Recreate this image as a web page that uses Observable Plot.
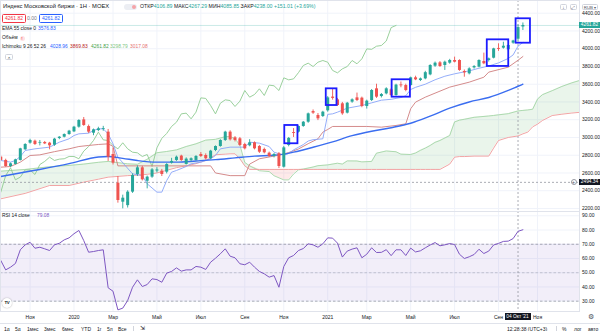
<!DOCTYPE html>
<html><head><meta charset="utf-8">
<script src="https://cdn.jsdelivr.net/npm/d3@7"></script>
<script src="https://cdn.jsdelivr.net/npm/@observablehq/plot@0.6"></script>
<style>
html,body{margin:0;padding:0;background:#fff;}
#wrap{position:relative;width:600px;height:331px;overflow:hidden;font-family:"Liberation Sans",Arial,sans-serif;color:#131722;background:#fff;}
#wrap svg{position:absolute;left:0;}
.t{position:absolute;white-space:nowrap;line-height:1;box-sizing:border-box;}
</style></head><body>
<div id="wrap"></div>
<script>
// ---------- DATA (weekly candles, first = 2019-09-23) ----------
const firstWeek = "2019-09-23";
const open = [2778,2741,2673,2696,2741,2861,2936,2958,2936,2943, 2936,2913,2988,3003,3033,3063,3116,3198,3123,3048, 3078,3090,3060,2808,2485,2271,2232,2384,2583,2658, 2507,2553,2622,2620,2609,2711,2741,2790,2696,2741, 2741,2808,2797,2760,2853,2898,2966,3060,2996,2985, 2921,2906,2940,2898,2865,2823,2789,2816,2665,2910, 3055,3060,3124,3172,3292,3248,3236,3300,3455,3424, 3379,3274,3398,3446,3443,3349,3416,3548,3461,3491, 3537,3473,3592,3585,3585,3672,3642,3660,3705,3803, 3841,3811,3837,3867,3867,3743,3717,3784,3792,3856, 3867,3893,4003,4006,3987,4062,4106.89,4245];
const high = [2790,2755,2712,2755,2878,2930,2980,2970,2966,2955, 2945,2990,3010,3040,3080,3125,3200,3225,3140,3095, 3115,3125,3090,2880,2560,2350,2400,2590,2680,2675, 2565,2650,2660,2640,2705,2765,2790,2800,2770,2770, 2795,2830,2815,2855,2905,2975,3070,3075,3010,3000, 2935,2975,2950,2910,2880,2835,2820,2830,2900,3000, 3100,3130,3180,3275,3310,3270,3295,3460,3548,3440, 3395,3395,3435,3500,3455,3420,3540,3600,3495,3560, 3550,3600,3625,3600,3680,3690,3670,3745,3820,3850, 3855,3860,3880,3905,3875,3760,3785,3810,3875,3950, 3895,4005,4055,4073,4045,4095,4267.29,4290];
const low = [2735,2665,2660,2690,2735,2855,2925,2910,2905,2920, 2861,2900,2975,2995,3025,3055,3105,3125,3045,3020, 3065,3070,2730,2690,2260,2196,2205,2370,2560,2510, 2421,2540,2600,2560,2590,2700,2730,2730,2690,2725, 2735,2775,2745,2750,2840,2890,2955,2960,2950,2900, 2860,2895,2860,2820,2815,2775,2770,2650,2655,2895, 3000,3050,3115,3160,3260,3190,3225,3285,3420,3350, 3250,3265,3385,3405,3335,3320,3405,3440,3445,3480, 3460,3465,3560,3515,3575,3640,3630,3650,3695,3790, 3790,3755,3825,3840,3745,3679,3705,3770,3785,3820, 3850,3885,3970,3995,3975,4050,4085.85,4205];
const close = [2741,2673,2703,2748,2872,2921,2966,2921,2944,2928, 2906,2981,3003,3033,3071,3116,3191,3135,3060,3086, 3097,3099,2778,2711,2290,2316,2384,2571,2658,2523, 2553,2635,2634,2583,2695,2730,2778,2741,2756,2760, 2786,2786,2760,2846,2898,2966,3060,2973,2966,2910, 2872,2940,2872,2834,2827,2786,2808,2673,2883,2990, 3045,3124,3172,3266,3274,3210,3285,3446,3440,3360, 3266,3386,3424,3416,3349,3409,3529,3454,3484,3548, 3473,3590,3582,3529,3672,3649,3660,3730,3811,3837, 3799,3848,3867,3848,3755,3728,3773,3799,3867,3830, 3886,3998,3993,4028,4036,4086.99,4238.00,4261.82];
const rsi = [58.6,52,53.9,56.5,66.1,69.6,71.4,67.2,67.9,66.8, 65.6,69.6,70.7,73.1,74.5,77.4,79.7,72.6,64.4,64.9, 65.6,66.1,39.4,37.0,23.9,25.1,30.5,39.8,45.0,40.3, 41.7,45.7,45.2,43.3,49.7,50.9,53.4,51.1,52.0,52.0, 54.4,53.9,52.3,57.4,60.2,63.3,66.8,61.6,60.5,56.3, 55.6,57.4,53.9,50.9,49.2,46.9,48.0,39.8,54.4,60.5, 62.1,65.6,67,70.3,69.6,67.9,70.3,74.5,74.3,70.8, 61,65.2,66.6,67.5,60.5,63.0,67.5,64.2,64.3,66.2, 62,66.1,66.1,62.1,67.3,64.6,65.4,67.5,69.5,71.2, 68.9,69.6,70.5,69.8,63,60,61.2,62.8,66.5,63.5, 65.2,69.5,70.6,72,72.2,74,79.08,80.2];

// EMA 55 (week index, value)
const emaIdx = [0,7,14,20,22,25,28,32,36,40,44,48,52,56,58,60,64,68,72,76,80,84,88,92,96,100,104,106,107];
const emaVal = [2560,2630,2705,2780,2786,2765,2740,2722,2722,2735,2750,2770,2790,2800,2812,2835,2890,2950,3020,3070,3110,3160,3240,3330,3400,3450,3530,3576.83,3600];
// Ichimoku conversion line
const tenkanIdx = [0,2,3,4,5,7,10,12,14,15,16,18,19,20,21,22,23,24,27,29,30,32,33,34,35,36,38,39,41,43,44,45,47,50,51,53,55,56,58,59,60,61,62,63,64,66,67,68,69,71,74,76,78,80,82,83,84,85,87,89,91,93,96,98,100,102,104,105,106,107];
const tenkanVal = [2741,2722,2741,2786,2853,2872,2891,2947,2985,3022,3041,3048,3078,3097,3097,3041,2928,2778,2590,2572,2478,2384,2384,2515,2609,2628,2673,2703,2722,2759,2797,2872,2891,2891,2947,2936,2898,2834,2800,2820,2860,2890,2920,2960,2975,2985,3260,3266,3285,3330,3360,3390,3420,3430,3450,3470,3540,3565,3600,3650,3690,3717,3750,3780,3805,3840,3890,3930,4028.96,4070];
// Ichimoku base line
const kijunIdx = [0,2,4,6,8,11,14,16,18,20,22,23,24,43,44,47,50,51,53,55,57,59,61,63,65,66,67,68,75,78,81,83,84,85,87,92,96,99,100,104,106,107];
const kijunVal = [2665,2673,2722,2797,2804,2840,2872,2898,2910,2921,2928,2900,2680,2680,2600,2570,2570,2700,2760,2780,2800,2830,2870,2930,2985,3060,3090,3124,3124,3116,3135,3154,3323,3398,3454,3567,3623,3679,3736,3792,3869.83,3912];
// Ichimoku leading spans A / B (shared week index)
const spanIdx = [0,5,10,14,17,20,22,26,28,30,32,34,36,38,40,42,44,46,47,48,49,50,51,53,55,56,58,59,60,61,62,64,65,67,69,70,71,73,74,76,77,79,81,82,84,85,86,87,88,89,90,92,93,94,95,97,100,101,102,104,106,107,108,109,110,111,113,115,117,119,120];
const spanA = [2620,2640,2670,2685,2700,2720,2730,2703,2698,2754, 2828,2842,2860,2898,2928,2970,2979,3009,3011,2985, 2914,2719,2680,2625,2616,2569,2522,2522,2588,2635, 2644,2667,2682,2691,2710,2700,2736,2735,2725,2730, 2823,2848,2839,2812,2808,2825,2855,2880,2910,2945, 2966,3022,3175,3195,3205,3227,3242,3248,3255,3268, 3298.79,3305,3310,3318,3432,3482,3527,3575,3615,3648, 3658];
const spanB = [2309,2370,2459,2459,2497,2530,2553,2570,2575,2585, 2600,2630,2660,2680,2705,2740,2805,2812,2816,2816, 2760,2680,2640,2640,2640,2640,2640,2640,2640,2640, 2640,2640,2640,2640,2640,2640,2640,2640,2640,2640, 2640,2640,2640,2640,2640,2640,2640,2640,2640,2640, 2640,2700,2778,2785,2785,2790,2790,2880,2966,3000, 3017.08,3041,3060,3120,3150,3191,3247,3262,3275,3285, 3290];
const lagShift = 26;

// annotation boxes (week index range, price range)
const boxFrom = [58.2, 66.7, 80.2, 99.7, 105.6];
const boxTo   = [60.9, 68.9, 83.95, 104.1, 108.55];
const boxLow  = [2929, 3360, 3454, 3800, 4062];
const boxHigh = [3135, 3548, 3650, 4100, 4337];

// axes / ticks / legend values
const priceTicks = [2200,2400,2600,2800,3000,3200,3400,3600,3800,4000,4200,4400];
const rsiTicks = [30,40,50,60,70,80,90];
const rsiBand = [30,70];
const rsiMid = 50;
const tickDates = ["2019-11-04","2020-01-06","2020-03-02","2020-05-04","2020-07-06","2020-09-07","2020-11-02","2021-01-04","2021-03-01","2021-05-03","2021-07-05","2021-09-06","2021-11-01"];
const tickLabels = ["Ноя","2020","Мар","Май","Июл","Сен","Ноя","2021","Мар","Май","Июл","Сен","Ноя"];
const crossIdx = 106;
const crossPrice = 2494.34;
const crossLabel = "04 Окт '21";
const emaLegend = 3576.83;
const ichiLegend = [4028.96, 3869.83, 4261.82, 3298.79, 3017.08];
const rsiLegend = 79.08;
const chartTitle = "Индекс Московской биржи · 1Н · MOEX";
const rangeButtons = ["1д","5д","1мес","3мес","6мес","YTD","1г","5л","Все"];

// ---------- BUILD ----------
const FONT = '"Liberation Sans", Arial, sans-serif';
const UP = "#26a69a", DOWN = "#ef5350";
const DAY = 864e5, t0 = +new Date(firstWeek);
const wk = i => new Date(t0 + i * 7 * DAY);
const xDom = [wk(-0.06), wk(118.6)];

const candles = open.map((o, i) => ({date: wk(i), o, h: high[i], l: low[i], c: close[i], up: close[i] >= o}));
const ema = emaIdx.map((i, k) => ({date: wk(i), v: emaVal[k]}));
const tenkan = tenkanIdx.map((i, k) => ({date: wk(i), v: tenkanVal[k]}));
const kijun = kijunIdx.map((i, k) => ({date: wk(i), v: kijunVal[k]}));
const span = spanIdx.map((i, k) => ({date: wk(i), a: spanA[k], b: spanB[k], top: Math.max(spanA[k], spanB[k])}));
const lag = close.slice(lagShift).map((c, k) => ({date: wk(k), v: c}));
const boxes = boxFrom.map((f, k) => ({x1: wk(f), x2: wk(boxTo[k]), y1: boxLow[k], y2: boxHigh[k]}));
const tickD = tickDates.map(s => new Date(s));
const tickMap = new Map(tickD.map((d, k) => [+d, tickLabels[k]]));
const dash = {stroke: "#9598a1", strokeDasharray: "2,2", strokeWidth: 0.8};
const style = {fontFamily: FONT, fontSize: "5px", color: "#131722", background: "transparent", overflow: "visible"};

const p1 = Plot.plot({
  width: 600, height: 211, marginLeft: 0, marginRight: 21, marginTop: 0, marginBottom: 0,
  style,
  x: {type: "utc", domain: xDom, axis: null},
  y: {domain: [2166, 4543], axis: null},
  marks: [
    Plot.gridX(tickD, {stroke: "#f0f3fa", strokeOpacity: 1}),
    Plot.gridY(priceTicks, {stroke: "#f0f3fa", strokeOpacity: 1}),
    Plot.areaY(span, {x: "date", y1: "b", y2: "top", fill: "#43a047", fillOpacity: 0.11, clip: true}),
    Plot.areaY(span, {x: "date", y1: "a", y2: "top", fill: "#f44336", fillOpacity: 0.11, clip: true}),
    Plot.lineY(span, {x: "date", y: "a", stroke: "#a5d6a7", strokeWidth: 0.9, clip: true}),
    Plot.lineY(span, {x: "date", y: "b", stroke: "#ef9a9a", strokeWidth: 0.9, clip: true}),
    Plot.ruleY([close[close.length - 1]], {stroke: UP, strokeOpacity: 0.3, strokeWidth: 0.8}),
    Plot.ruleY([crossPrice], dash),
    Plot.ruleX([wk(crossIdx)], dash),
    Plot.lineY(lag, {x: "date", y: "v", stroke: "#8fcb91", strokeWidth: 0.9}),
    Plot.lineY(kijun, {x: "date", y: "v", stroke: "#cf7e7e", strokeWidth: 0.9}),
    Plot.lineY(tenkan, {x: "date", y: "v", stroke: "#88a4f8", strokeWidth: 0.9}),
    Plot.lineY(ema, {x: "date", y: "v", stroke: "#3a6df0", strokeWidth: 1.4, curve: "monotone-x"}),
    Plot.ruleX(candles, {filter: d => d.up, x: "date", y1: "l", y2: "h", stroke: UP, strokeWidth: 0.9}),
    Plot.ruleX(candles, {filter: d => !d.up, x: "date", y1: "l", y2: "h", stroke: DOWN, strokeWidth: 0.9}),
    Plot.ruleX(candles, {filter: d => d.up, x: "date", y1: "o", y2: "c", stroke: UP, strokeWidth: 3}),
    Plot.ruleX(candles, {filter: d => !d.up, x: "date", y1: "o", y2: "c", stroke: DOWN, strokeWidth: 3}),
    Plot.rect(boxes, {x1: "x1", x2: "x2", y1: "y1", y2: "y2", fill: "none", stroke: "#1c1cff", strokeWidth: 1.8}),
    Plot.frame({stroke: "#e0e3eb"}),
    Plot.axisY(priceTicks, {anchor: "right", tickSize: 0, tickPadding: 2.5, tickFormat: d => d.toFixed(2), fontSize: 5, label: null})
  ]
});
p1.style.top = "0px";

const rsiData = rsi.map((v, i) => ({date: wk(i), v}));
const p2 = Plot.plot({
  width: 600, height: 120, marginLeft: 0, marginRight: 21, marginTop: 0, marginBottom: 20,
  style,
  x: {type: "utc", domain: xDom, axis: null},
  y: {domain: [22.75, 93.02], axis: null},
  marks: [
    Plot.gridX(tickD, {stroke: "#f0f3fa", strokeOpacity: 1}),
    Plot.gridY(rsiTicks, {stroke: "#f0f3fa", strokeOpacity: 1}),
    Plot.areaY(xDom, {x: d => d, y1: rsiBand[0], y2: rsiBand[1], fill: "#7e57c2", fillOpacity: 0.1}),
    Plot.ruleY(rsiBand, {stroke: "#8a8d99", strokeDasharray: "2.5,2", strokeWidth: 0.7}),
    Plot.ruleY([rsiMid], {stroke: "#8a8d99", strokeDasharray: "2.5,2", strokeWidth: 0.7, strokeOpacity: 0.6}),
    Plot.ruleX([wk(crossIdx)], dash),
    Plot.lineY(rsiData, {x: "date", y: "v", stroke: "#7e57c2", strokeWidth: 1}),
    Plot.frame({stroke: "#e0e3eb"}),
    Plot.axisY(rsiTicks, {anchor: "right", tickSize: 0, tickPadding: 2.5, tickFormat: d => d.toFixed(2), fontSize: 5, label: null}),
    Plot.axisX(tickD, {anchor: "bottom", tickSize: 0, tickPadding: 3.5, tickFormat: d => tickMap.get(+d), fontSize: 5, label: null})
  ]
});
p2.style.top = "211px";

const wrap = document.getElementById("wrap");
wrap.appendChild(p1);
wrap.appendChild(p2);

function label(html, left, top, size, extra = "") {
  const d = document.createElement("div");
  d.className = "t";
  d.style.cssText = `left:${left}px;top:${top}px;font-size:${size}px;${extra}`;
  d.innerHTML = html;
  wrap.appendChild(d);
  return d;
}
const f2 = v => v.toFixed(2);
const n = close.length;
const last = close[n - 1];
const hov = crossIdx;
const chg = close[hov] - close[hov - 1];
const pct = chg / close[hov - 1] * 100;
const g = s => `<span style="color:${UP}">${s}</span>`;

// header
label(chartTitle, 3, 3.7, 5.8);
label("", 124, 3.8, 5, "width:13px;height:6px;background:#eceef3;border-radius:3px;");
label("", 131.5, 4.8, 4, "width:4px;height:4px;border-radius:2px;background:#f5a3a8;");
label(`ОТКР${g(f2(open[hov]))} МАКС${g(f2(high[hov]))} МИН${g(f2(low[hov]))} ЗАКР${g(f2(close[hov]))} ${g("+" + f2(chg) + " (+" + f2(pct) + "%)")}`, 140, 4.3, 5.2);
label(f2(last), 2, 14.4, 5, "border:0.8px solid #f23645;color:#f23645;padding:1px 2px;border-radius:1.5px;");
label("0.00", 27, 15.6, 5, "color:#787b86");
label(f2(last), 39, 14.4, 5, "border:0.8px solid #2962ff;color:#2962ff;padding:1px 2px;border-radius:1.5px;");
label("EMA 55 close 0", 2, 26.6, 4.9);
label(f2(emaLegend), 38, 26.6, 4.9, "color:#2962ff");
label("Объём", 2, 35.8, 4.9);
label("!", 19.5, 35.6, 4.2, "width:5px;height:5px;border-radius:50%;background:#fde2e4;color:#f23645;text-align:center;line-height:5.2px;font-weight:bold;");
label("Ichimoku 9 26 52 26", 2, 45.2, 4.9);
const ichiColors = ["#2962ff", "#b71c1c", "#43a047", "#81c784", "#e57373"];
const ichiX = [50, 70, 91, 110, 130];
ichiLegend.forEach((v, k) => label(f2(v), ichiX[k], 45.2, 4.9, `color:${ichiColors[k]}`));
label("⌃", 5, 53.5, 5, "width:8px;height:6px;border:0.6px solid #d1d4dc;border-radius:1.5px;text-align:center;line-height:8px;");

// top-right controls
label("↓", 560, 3.8, 4.6, "width:7px;height:6.5px;border:0.6px solid #d1d4dc;border-radius:1.5px;text-align:center;line-height:6.5px;color:#50535e;");
label("⤢", 569.5, 3.8, 4.6, "width:7px;height:6.5px;border:0.6px solid #d1d4dc;border-radius:1.5px;text-align:center;line-height:6.5px;color:#50535e;");
label("RUB ▾", 582, 3.5, 4.4, "width:16px;height:6.5px;border:0.6px solid #d1d4dc;border-radius:1.5px;text-align:center;line-height:6.5px;color:#50535e;background:#fff;");

// badges placed through the plot scales
const ys = p1.scale("y"), xs = p2.scale("x");
label(f2(last), 579, ys.apply(last) - 2.9, 4.8, `width:21px;height:5.8px;background:${UP};color:#fff;text-align:center;line-height:5.8px;`);
label(f2(crossPrice), 579, ys.apply(crossPrice) - 2.9, 4.8, "width:21px;height:5.8px;background:#131722;color:#fff;text-align:center;line-height:5.8px;");
label("+", 570.5, ys.apply(crossPrice) - 3, 5, "width:6px;height:6px;border-radius:50%;border:0.6px solid #9598a1;text-align:center;line-height:5.6px;color:#50535e;background:#fff;");
label(crossLabel, xs.apply(wk(crossIdx)) - 13, 313, 4.8, "width:26px;height:7px;background:#131722;color:#fff;text-align:center;line-height:7px;");

// RSI legend and logo
label("RSI 14 close", 2, 214.2, 4.9);
label(f2(rsiLegend), 37, 214.2, 4.9, "color:#7e57c2");
label("TV", 2, 298, 4.4, "width:10px;height:10px;border-radius:50%;background:#fff;box-shadow:0 0 1.5px rgba(0,0,0,0.35);text-align:center;line-height:10px;font-weight:bold;letter-spacing:-0.3px;");
label("⚙", 588, 313, 7, "color:#50535e;");

// bottom toolbar
label("", 0, 322.5, 5, "width:600px;height:0;border-top:0.8px solid #e0e3eb;");
const btnX = [4, 15, 27, 44, 62, 81, 97, 107, 118];
rangeButtons.forEach((s, k) => label(s, btnX[k], 326.6, 5, "color:#131722"));
label("", 133, 325.5, 5, "width:0;height:6px;border-left:0.6px solid #d1d4dc;");
label("⇲", 140, 326, 5.5, "color:#131722");
label("12:28:38 (UTC+3)", 507, 326.6, 5, "color:#131722");
label("", 556, 325.5, 5, "width:0;height:6px;border-left:0.6px solid #d1d4dc;");
label("%", 562, 326.6, 5);
label("лог", 574, 326.6, 5);
label("авто", 588, 326.6, 5);
</script>
</body></html>
